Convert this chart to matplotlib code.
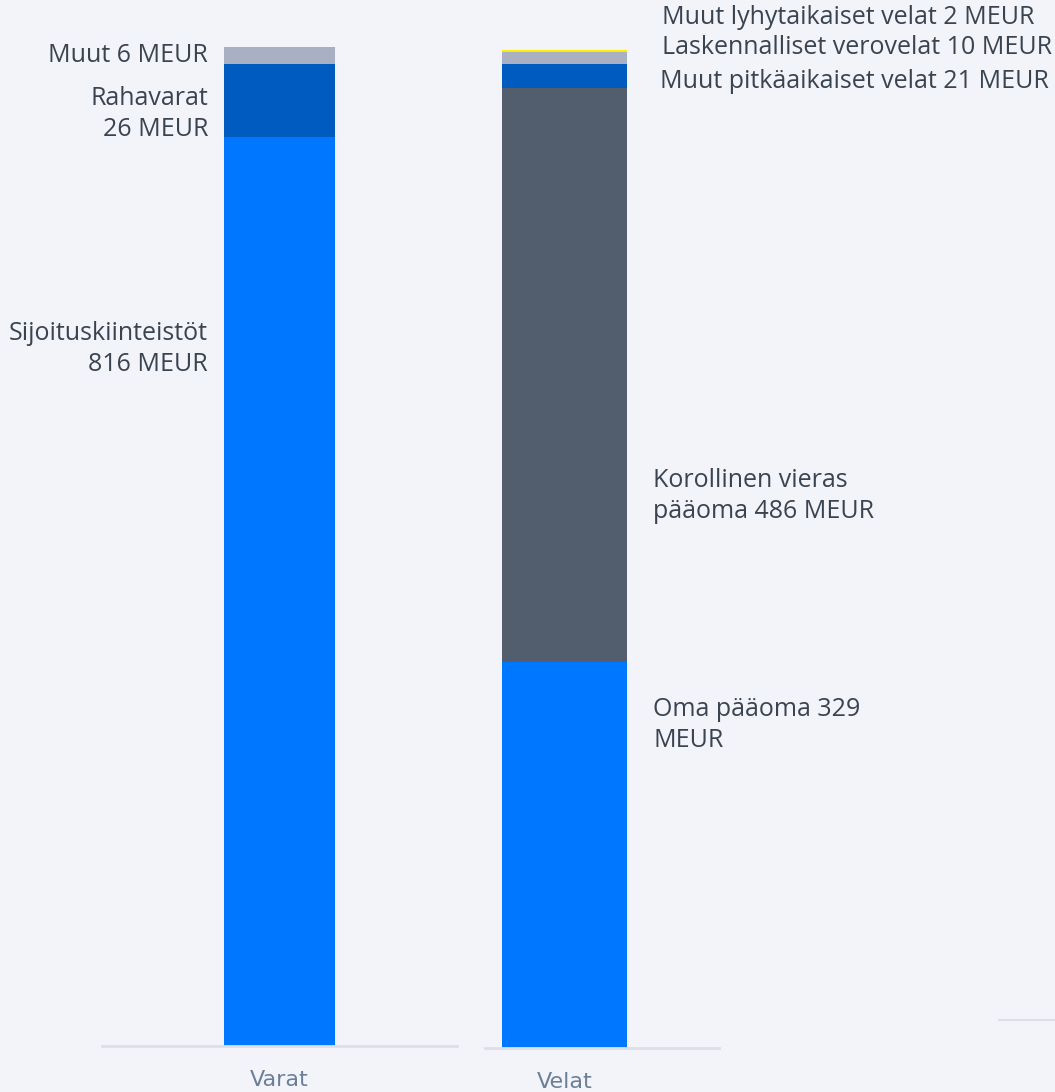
import matplotlib
matplotlib.use("Agg")
import matplotlib.pyplot as plt
from matplotlib.lines import Line2D

plt.rcParams['font.family'] = ['Open Sans', 'DejaVu Sans']

# ---- data ----
varat_categories = ["Sijoituskiinteistöt", "Rahavarat", "Muut"]
varat_values = [775, 62, 15]          # bar heights as drawn
varat_labels = ["Sijoituskiinteistöt\n816 MEUR", "Rahavarat\n26 MEUR", "Muut 6 MEUR"]

velat_categories = ["Oma pääoma", "Korollinen vieras pääoma", "Muut pitkäaikaiset velat",
                    "Laskennalliset verovelat", "Muut lyhytaikaiset velat"]
velat_values = [329, 489, 20.5, 10.2, 2.4]
velat_labels = ["Oma pääoma 329\nMEUR", "Korollinen vieras\npääoma 486 MEUR",
                "Muut pitkäaikaiset velat 21 MEUR", "Laskennalliset verovelat 10 MEUR",
                "Muut lyhytaikaiset velat 2 MEUR"]
tick_labels = ["Varat", "Velat"]

varat_colors = ["#0077FF", "#005BC1", "#A9B0C3"]
velat_colors = ["#0077FF", "#525D6E", "#005BC1", "#A9B0C3", "#FFED00"]

BG = "#F3F4F9"
TXT = "#3A4450"
W, H = 1055, 1092
PXU = 1.173  # pixels per unit

fig = plt.figure(figsize=(W / 100, H / 100), dpi=100, facecolor=BG)

def make_axes(x0, x1, base):
    ax = fig.add_axes([x0 / W, (H - base) / H, (x1 - x0) / W, base / H])
    ax.set_facecolor(BG)
    ax.set_ylim(0, base / PXU)
    ax.set_xlim(x0, x1)
    for s in ["left", "right", "top"]:
        ax.spines[s].set_visible(False)
    ax.spines["bottom"].set_color("#DCDFE6")
    ax.spines["bottom"].set_linewidth(2)
    ax.set_yticks([])
    ax.tick_params(axis="x", length=0, pad=17, labelsize=16, labelcolor="#6B7F99")
    return ax

def fig_text(x, y, s, ha):
    fig.text(x / W, 1 - y / H, s, ha=ha, va="center", fontsize=18, color=TXT,
             linespacing=1.32)

# Varat
ax1 = make_axes(102, 457, 1046)
bottom = 0
for v, c in zip(varat_values, varat_colors):
    ax1.bar(279.5, v, width=111, bottom=bottom, color=c)
    bottom += v
ax1.set_xticks([279.5])
ax1.set_xticklabels([tick_labels[0]], family="DejaVu Sans")
for lab, y in zip(varat_labels, [349, 114, 55]):
    fig_text(208, y, lab, "right")

# Velat
ax2 = make_axes(485, 719, 1048)
bottom = 0
for v, c in zip(velat_values, velat_colors):
    ax2.bar(564.5, v, width=125, bottom=bottom, color=c)
    bottom += v
ax2.set_xticks([564.5])
ax2.set_xticklabels([tick_labels[1]], family="DejaVu Sans")
for lab, (x, y) in zip(velat_labels, [(653, 725), (653, 496), (660, 81), (662, 48), (662, 18)]):
    fig_text(x, y, lab, "left")

# partial third axis line at right edge
fig.add_artist(Line2D([999 / W, 1], [1 - 1020 / H, 1 - 1020 / H], color="#DCDFE6", lw=1.5))

fig.savefig("out.png", dpi=100, facecolor=BG)
